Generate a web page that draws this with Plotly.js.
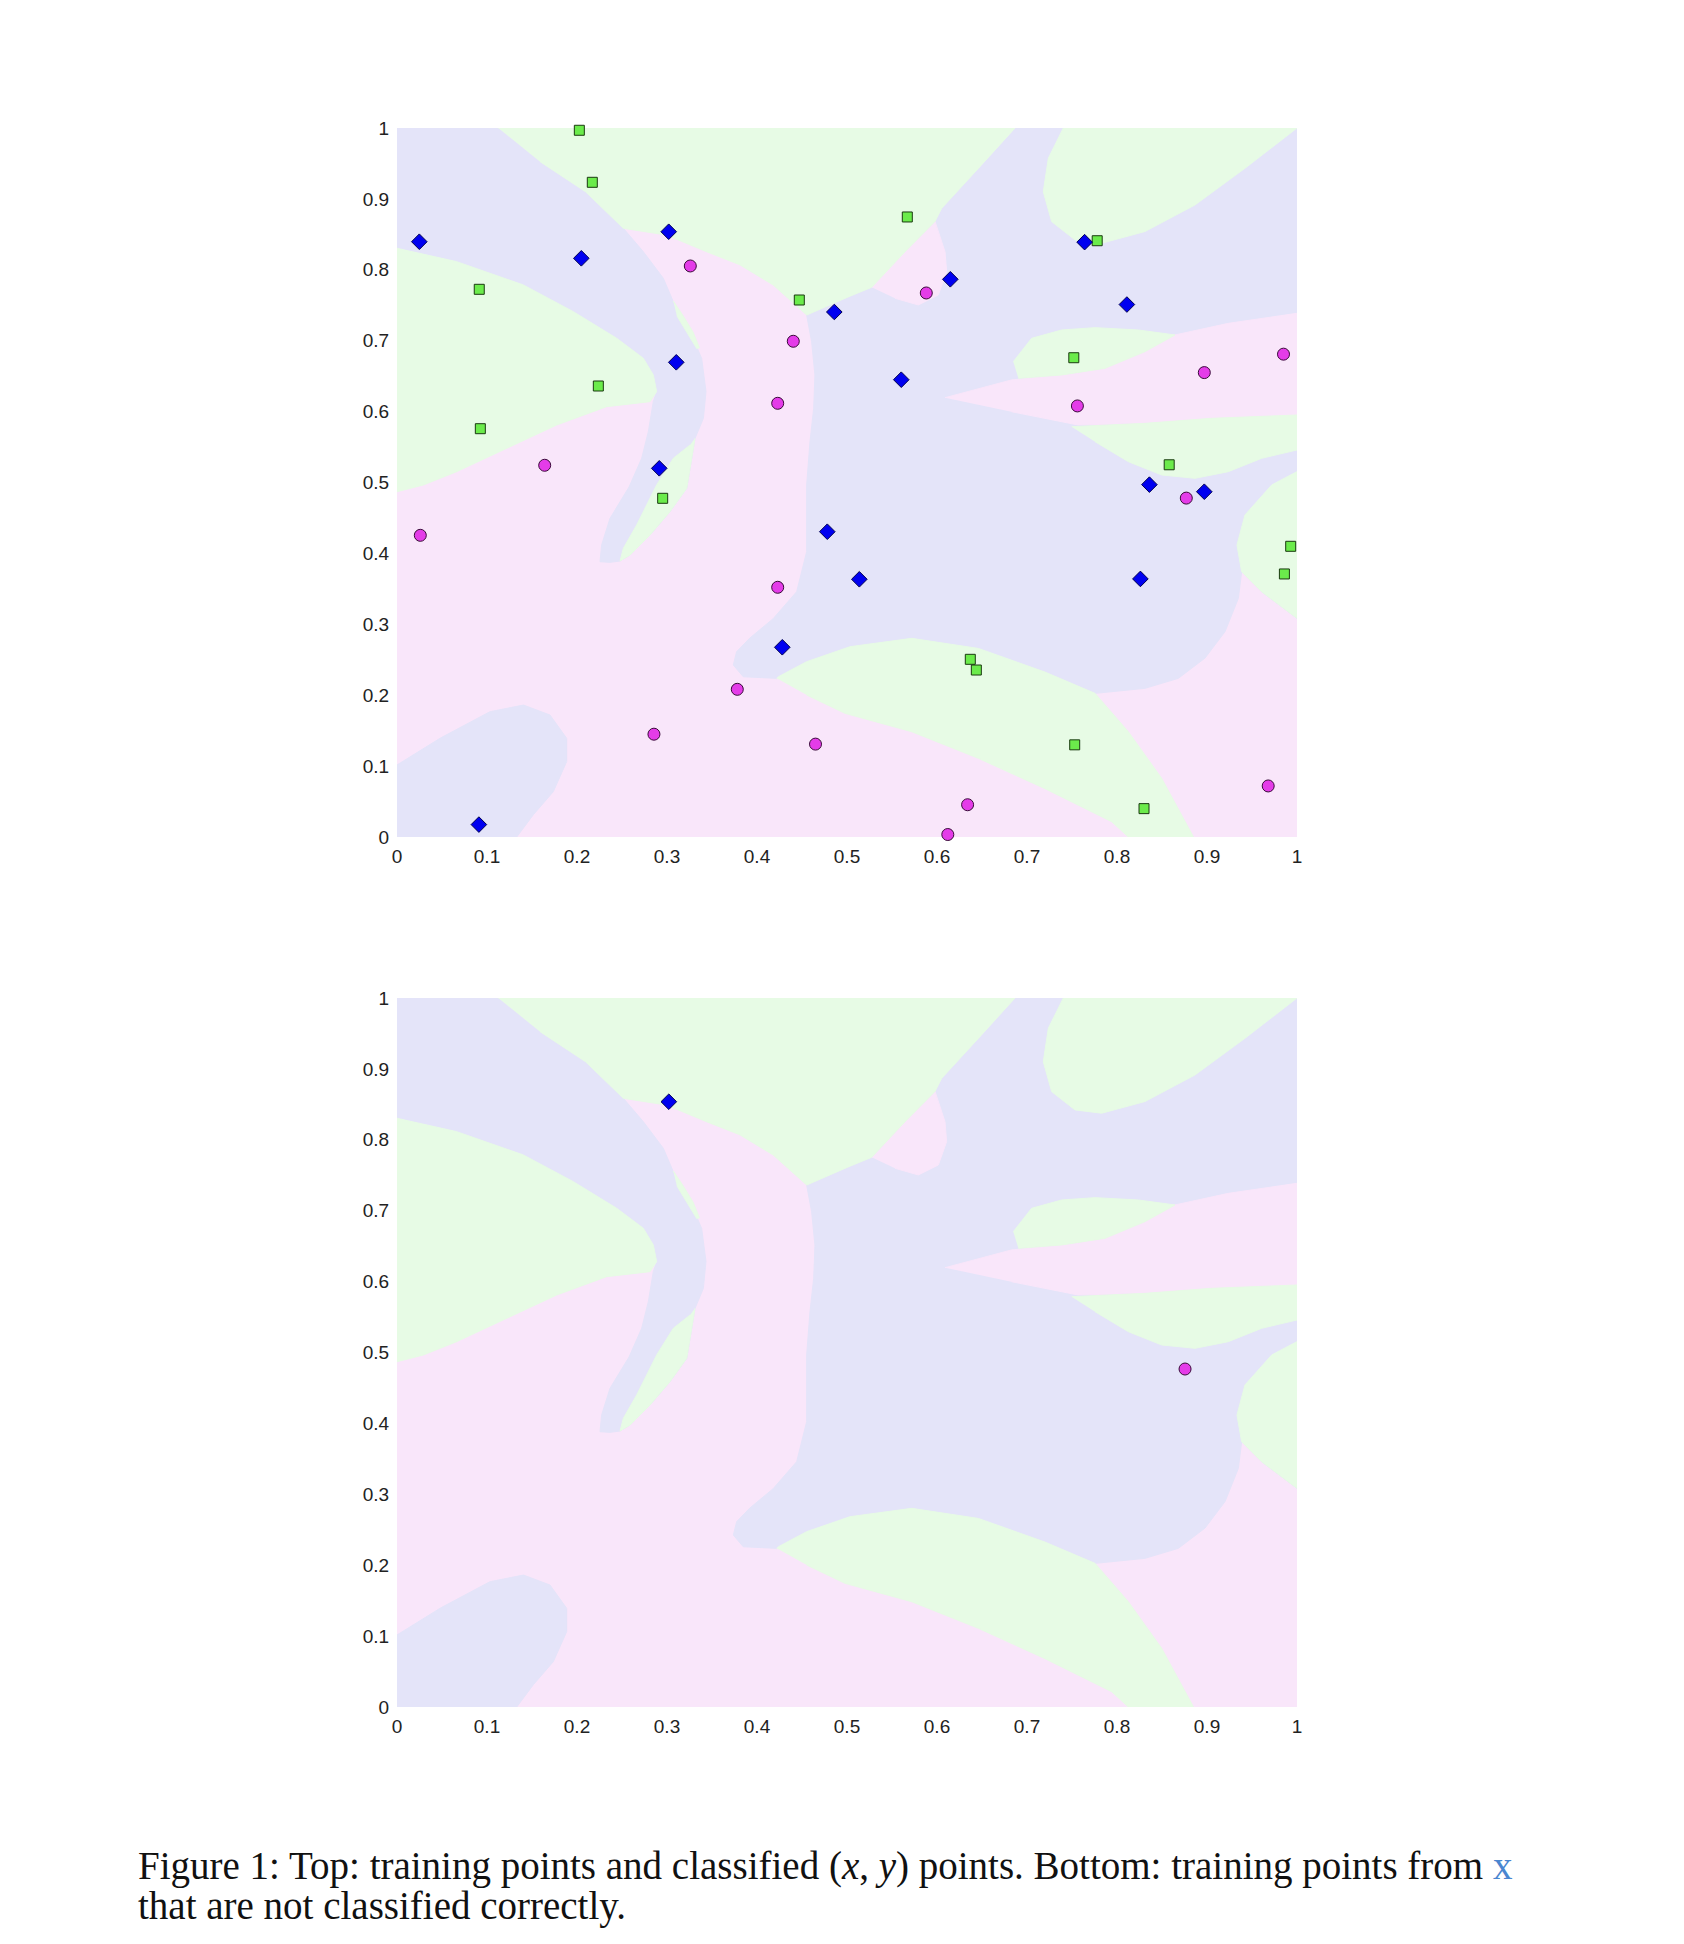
<!DOCTYPE html>
<html>
<head>
<meta charset="utf-8">
<script src="https://cdn.plot.ly/plotly-3.0.1.min.js"></script>
<style>
html,body{margin:0;padding:0;background:#fff;}
#chart{width:1684px;height:1944px;}
</style>
</head>
<body>
<div id="chart"></div>
<script>
// ---- training points (class: blue diamonds, magenta circles, green squares) ----
const blueX = [0.0248, 0.2048, 0.3019, 0.3103, 0.2914, 0.4859, 0.6148, 0.5603, 0.764, 0.811, 0.836, 0.897, 0.826, 0.4781, 0.5137, 0.4281, 0.091];
const blueY = [0.8396, 0.8162, 0.8537, 0.6695, 0.5200, 0.7405, 0.7866, 0.6450, 0.839, 0.751, 0.497, 0.487, 0.364, 0.4306, 0.3635, 0.2676, 0.0175];
const pinkX = [0.0259, 0.1641, 0.3259, 0.4403, 0.423, 0.5881, 0.756, 0.897, 0.985, 0.877, 0.423, 0.3781, 0.2855, 0.465, 0.612, 0.634, 0.968];
const pinkY = [0.4255, 0.5243, 0.8054, 0.6992, 0.6117, 0.7673, 0.608, 0.655, 0.681, 0.478, 0.3522, 0.2083, 0.145, 0.131, 0.0035, 0.0455, 0.072];
const greenX = [0.2026, 0.217, 0.0914, 0.2237, 0.0926, 0.2952, 0.447, 0.567, 0.778, 0.752, 0.858, 0.993, 0.986, 0.637, 0.6437, 0.753, 0.830];
const greenY = [0.9968, 0.9234, 0.7725, 0.6361, 0.5759, 0.4777, 0.7574, 0.8745, 0.841, 0.676, 0.525, 0.410, 0.371, 0.2506, 0.2355, 0.130, 0.040];

// ---- training points not classified correctly ----
const missBlueX = [0.302];
const missBlueY = [0.8537];
const missPinkX = [0.8756];
const missPinkY = [0.4767];

// ---- classified regions (boundaries) ----
const blueAX = [0, 0.1126, 0.159, 0.2096, 0.2515, 0.2737, 0.2959, 0.307, 0.3256, 0.3385, 0.3433, 0.3404, 0.3311, 0.3219, 0.3033, 0.2811, 0.2589, 0.2478, 0.2367, 0.2256, 0.2274, 0.2367, 0.258, 0.2719, 0.2793, 0.2848, 0.2885, 0.2848, 0.2737, 0.2441, 0.1959, 0.1404, 0.0663, 0];
const blueAY = [1, 1, 0.9525, 0.910, 0.8585, 0.8255, 0.788, 0.755, 0.7127, 0.675, 0.6282, 0.5905, 0.5623, 0.4918, 0.4589, 0.426, 0.3977, 0.3893, 0.3874, 0.3883, 0.4119, 0.4495, 0.494, 0.5341, 0.5717, 0.614, 0.6282, 0.6517, 0.6752, 0.7034, 0.741, 0.7786, 0.8115, 0.8303];

const blueBX = [0.6867, 1, 1, 0.9607, 0.9385, 0.9348, 0.92, 0.8978, 0.8681, 0.8311, 0.7756, 0.72, 0.6459, 0.5719, 0.5033, 0.4552, 0.4237, 0.4219, 0.3848, 0.3737, 0.3774, 0.392, 0.418, 0.4441, 0.4552, 0.4552, 0.4589, 0.463, 0.4644, 0.4607, 0.4552, 0.50, 0.5274, 0.5644, 0.5978, 0.6052, 0.6459];
const blueBY = [1, 1, 0.3084, 0.346, 0.3742, 0.3366, 0.2897, 0.2524, 0.2238, 0.2097, 0.2026, 0.2326, 0.266, 0.2802, 0.2684, 0.2473, 0.226, 0.2238, 0.226, 0.2426, 0.2614, 0.2805, 0.308, 0.346, 0.4024, 0.4965, 0.5573, 0.6046, 0.6516, 0.6986, 0.7362, 0.761, 0.7753, 0.8255, 0.8683, 0.8867, 0.943];

const blueCX = [0, 0, 0.0478, 0.1033, 0.1404, 0.170, 0.1885, 0.1885, 0.1737, 0.1515, 0.133];
const blueCY = [0, 0.1016, 0.1392, 0.1767, 0.1861, 0.172, 0.1392, 0.1063, 0.064, 0.0315, 0];

const pinkBumpX = [0.5274, 0.5644, 0.5978, 0.6089, 0.6107, 0.6015, 0.5793, 0.5533];
const pinkBumpY = [0.7753, 0.8255, 0.8683, 0.8255, 0.7974, 0.7645, 0.7504, 0.7598];

const pinkWedgeX = [0.6089, 0.6826, 0.757, 0.8126, 0.8644, 0.9237, 1, 1, 0.9052, 0.8311, 0.757, 0.6826];
const pinkWedgeY = [0.6196, 0.6446, 0.654, 0.6752, 0.7081, 0.7245, 0.7386, 0.5952, 0.5905, 0.5834, 0.5811, 0.5999];

const greenTopX = [0.1126, 0.6867, 0.6459, 0.6052, 0.5978, 0.5644, 0.5274, 0.50, 0.4552, 0.418, 0.381, 0.344, 0.2996, 0.2515, 0.2096, 0.159];
const greenTopY = [1, 1, 0.943, 0.8867, 0.8683, 0.8255, 0.7753, 0.761, 0.7362, 0.7786, 0.807, 0.8255, 0.849, 0.8585, 0.910, 0.9525];

const greenLeftX = [0, 0.0663, 0.1404, 0.1959, 0.2441, 0.2737, 0.2848, 0.2885, 0.2811, 0.233, 0.1774, 0.1219, 0.0663, 0.0293, 0];
const greenLeftY = [0.8303, 0.8115, 0.7786, 0.741, 0.7034, 0.6752, 0.6517, 0.6282, 0.614, 0.607, 0.5811, 0.5482, 0.5153, 0.4965, 0.487];

const greenStripX = [0.3311, 0.3219, 0.3033, 0.2811, 0.2589, 0.2478, 0.2515, 0.2663, 0.2885, 0.307, 0.3256];
const greenStripY = [0.5623, 0.4918, 0.4589, 0.426, 0.3977, 0.3893, 0.4072, 0.4401, 0.4965, 0.5341, 0.5529];

const greenSliverX = [0.307, 0.318, 0.329, 0.336, 0.333, 0.322, 0.311];
const greenSliverY = [0.756, 0.735, 0.712, 0.690, 0.689, 0.712, 0.735];

const greenLowX = [0.4219, 0.4237, 0.4552, 0.5033, 0.5719, 0.6459, 0.72, 0.7756, 0.8126, 0.8496, 0.885, 0.8126, 0.7941, 0.72, 0.6459, 0.5719, 0.4978, 0.4552];
const greenLowY = [0.2238, 0.226, 0.2473, 0.2684, 0.2802, 0.266, 0.2326, 0.2026, 0.1485, 0.0828, 0, 0, 0.0216, 0.0682, 0.111, 0.1485, 0.1744, 0.2003];

const greenTRX = [0.7404, 0.7237, 0.7181, 0.7274, 0.7533, 0.783, 0.8311, 0.8867, 0.9422, 0.9941, 1];
const greenTRY = [1, 0.9572, 0.9102, 0.868, 0.8422, 0.8375, 0.854, 0.8915, 0.9432, 0.9948, 1];

const greenMidX = [0.6848, 0.7052, 0.7385, 0.7756, 0.8237, 0.8644, 0.8311, 0.7867, 0.7385, 0.6904];
const greenMidY = [0.6704, 0.7034, 0.7151, 0.7184, 0.7151, 0.7081, 0.6846, 0.6611, 0.6517, 0.647];

const greenBandX = [0.7496, 0.8311, 0.9052, 1, 1, 0.9607, 0.9237, 0.8867, 0.8496, 0.8126, 0.7756];
const greenBandY = [0.5787, 0.5834, 0.5905, 0.5952, 0.5459, 0.5341, 0.5153, 0.5059, 0.5106, 0.5294, 0.5576];

const greenRightX = [1, 0.9719, 0.9422, 0.9333, 0.9385, 0.9607, 1];
const greenRightY = [0.5153, 0.4965, 0.4542, 0.4118, 0.3742, 0.346, 0.3084];

const tickVals = [0, 0.1, 0.2, 0.3, 0.4, 0.5, 0.6, 0.7, 0.8, 0.9, 1];
const tickText = ['0', '0.1', '0.2', '0.3', '0.4', '0.5', '0.6', '0.7', '0.8', '0.9', '1'];

// ---- styles ----
const C_BLUE_BG = '#E4E4F9';
const C_GREEN_BG = '#E7FBE5';
const C_PINK_BG = '#F9E6FA';

const regions = [
  [blueAX, blueAY, C_BLUE_BG], [blueBX, blueBY, C_BLUE_BG], [blueCX, blueCY, C_BLUE_BG],
  [pinkBumpX, pinkBumpY, C_PINK_BG], [pinkWedgeX, pinkWedgeY, C_PINK_BG],
  [greenTopX, greenTopY, C_GREEN_BG], [greenLeftX, greenLeftY, C_GREEN_BG],
  [greenStripX, greenStripY, C_GREEN_BG], [greenSliverX, greenSliverY, C_GREEN_BG],
  [greenLowX, greenLowY, C_GREEN_BG], [greenTRX, greenTRY, C_GREEN_BG],
  [greenMidX, greenMidY, C_GREEN_BG], [greenBandX, greenBandY, C_GREEN_BG],
  [greenRightX, greenRightY, C_GREEN_BG]
];

const traces = [];
function addRegions(xa, ya) {
  regions.forEach(r => {
    traces.push({
      type: 'scatter', mode: 'lines', x: r[0], y: r[1], xaxis: xa, yaxis: ya,
      fill: 'toself', fillcolor: r[2], line: {color: r[2], width: 1},
      hoverinfo: 'skip', showlegend: false
    });
  });
}
function addPoints(xa, ya, bx, by, px, py, gx, gy) {
  const common = {type: 'scatter', mode: 'markers', xaxis: xa, yaxis: ya, cliponaxis: false, showlegend: false};
  if (gx.length) traces.push(Object.assign({}, common, {x: gx, y: gy,
    marker: {symbol: 'square', size: 10, color: '#6BEB4B', line: {color: '#1a3a10', width: 1}}}));
  if (px.length) traces.push(Object.assign({}, common, {x: px, y: py,
    marker: {symbol: 'circle', size: 12, color: '#E43CE8', line: {color: '#3a0a3a', width: 1}}}));
  if (bx.length) traces.push(Object.assign({}, common, {x: bx, y: by,
    marker: {symbol: 'diamond', size: 12, color: '#0000F0', line: {color: '#000050', width: 1}}}));
}

addRegions('x', 'y');
addPoints('x', 'y', blueX, blueY, pinkX, pinkY, greenX, greenY);
addRegions('x2', 'y2');
addPoints('x2', 'y2', missBlueX, missBlueY, missPinkX, missPinkY, [], []);

const tickFont = {family: 'Liberation Sans, Arial, sans-serif', size: 19, color: '#222'};
function xAx(anchor) {
  return {domain: [397/1684, 1297/1684], range: [0, 1], anchor: anchor,
    tickmode: 'array', tickvals: tickVals, ticktext: tickText,
    showgrid: false, zeroline: false, showline: false,
    ticks: 'outside', ticklen: 2, tickcolor: 'rgba(0,0,0,0)', tickfont: tickFont, fixedrange: true};
}
function yAx(anchor, dom) {
  return {domain: dom, range: [0, 1], anchor: anchor,
    tickmode: 'array', tickvals: tickVals, ticktext: tickText,
    showgrid: false, zeroline: false, showline: false,
    ticks: 'outside', ticklen: 3, tickcolor: 'rgba(0,0,0,0)', tickfont: tickFont, fixedrange: true};
}

const capFont = {family: 'Liberation Serif, DejaVu Serif, serif', size: 39, color: '#111'};
const layout = {
  width: 1684, height: 1944,
  margin: {l: 0, r: 0, t: 0, b: 0},
  paper_bgcolor: '#ffffff',
  plot_bgcolor: C_PINK_BG,
  showlegend: false,
  xaxis: xAx('y'),
  yaxis: yAx('x', [(1944-837)/1944, (1944-128)/1944]),
  xaxis2: xAx('y2'),
  yaxis2: yAx('x2', [(1944-1707)/1944, (1944-998)/1944]),
  annotations: [
    {xref: 'paper', yref: 'paper', x: 136/1684, y: (1944-1866)/1944, xanchor: 'left', yanchor: 'middle',
     showarrow: false, align: 'left',
     text: 'Figure 1: Top: training points and classified (<i>x</i>, <i>y</i>) points. Bottom: training points from <span style="color:#4A86D0">x</span>',
     font: capFont},
    {xref: 'paper', yref: 'paper', x: 136/1684, y: (1944-1906)/1944, xanchor: 'left', yanchor: 'middle',
     showarrow: false, align: 'left',
     text: 'that are not classified correctly.',
     font: capFont}
  ]
};

Plotly.newPlot('chart', traces, layout, {staticPlot: true, displayModeBar: false});
</script>
</body>
</html>
